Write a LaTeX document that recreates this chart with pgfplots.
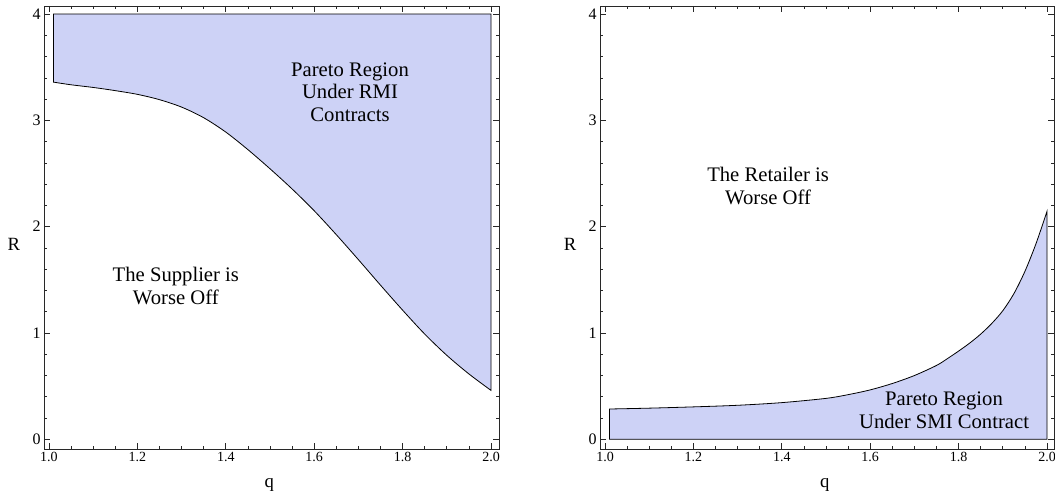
\documentclass[border=0pt]{standalone}
\usepackage{pgfplots}
\pgfplotsset{compat=1.18}
\usepackage{fontspec}
\setmainfont{Liberation Serif}
\definecolor{regcol}{RGB}{205,210,246}
\definecolor{framecol}{RGB}{40,40,40}
\pgfplotsset{
  mma/.style={
    scale only axis,
    height=332.25pt,
    xmin=0.98869, ymin=-0.0913, ymax=4.0762,
    axis line style={framecol, line width=0.6pt},
    tick style={framecol, line width=0.5pt},
    tick align=inside,
    major tick length=4.5pt,
    minor tick length=2.6pt,
    xtick={1.0,1.2,1.4,1.6,1.8,2.0},
    xticklabels={1.0,1.2,1.4,1.6,1.8,2.0},
    minor xtick={1.05,1.1,1.15,1.25,1.3,1.35,1.45,1.5,1.55,1.65,1.7,1.75,1.85,1.9,1.95},
    ytick={0,1,2,3,4},
    yticklabels={0,1,2,3,4},
    minor ytick={0.2,0.4,0.6,0.8,1.2,1.4,1.6,1.8,2.2,2.4,2.6,2.8,3.2,3.4,3.6,3.8},
    xticklabel style={font=\fontsize{10.5}{12}\selectfont, yshift=1pt},
    yticklabel style={font=\fontsize{12}{13}\selectfont, xshift=1pt},
    xlabel={q}, ylabel={R},
    xlabel style={font=\fontsize{14}{16}\selectfont, at={(axis description cs:0.495,-0.081)}, anchor=center},
    ylabel style={font=\fontsize{14}{16}\selectfont, rotate=-90, at={(axis description cs:-0.066,0.463)}, anchor=center},
    clip=false,
  }
}
\begin{document}
\begin{tikzpicture}
\path[use as bounding box] (0,0) rectangle (791.25pt,370.5pt);
\begin{axis}[mma, at={(33pt,33.75pt)}, anchor=south west, width=341.25pt, xmax=2.0181]
\addplot[fill=regcol, draw=black, line width=0.6pt, smooth] coordinates {
(1.01,3.36) (1.05,3.335) (1.10,3.31) (1.15,3.28) (1.20,3.245) (1.25,3.195)
(1.30,3.125) (1.35,3.025) (1.40,2.89) (1.45,2.725) (1.50,2.545) (1.55,2.355)
(1.60,2.15) (1.65,1.925) (1.70,1.69) (1.75,1.45) (1.80,1.215) (1.85,0.99)
(1.90,0.79) (1.95,0.615) (2.00,0.46)
} -- (axis cs:2.00,4.00) -- (axis cs:1.01,4.00) -- cycle;
\node[align=center, font=\fontsize{15.5}{17}\selectfont] at (axis cs:1.681,3.267) {Pareto Region\\Under RMI\\Contracts};
\node[align=center, font=\fontsize{15.5}{17}\selectfont] at (axis cs:1.287,1.442) {The Supplier is\\Worse Off};
\end{axis}
\begin{axis}[mma, at={(450pt,33.75pt)}, anchor=south west, width=340.5pt, xmax=2.0158]
\addplot[fill=regcol, draw=black, line width=0.6pt, smooth] coordinates {
(1.01,0.285) (1.10,0.293) (1.20,0.305) (1.30,0.32) (1.40,0.345)
(1.50,0.385) (1.55,0.42) (1.60,0.465) (1.65,0.525) (1.70,0.60) (1.75,0.695)
(1.775,0.76) (1.80,0.83) (1.825,0.905) (1.85,0.99) (1.875,1.09) (1.90,1.21)
(1.925,1.37) (1.95,1.58) (1.975,1.84) (2.00,2.145)
} -- (axis cs:2.00,0) -- (axis cs:1.01,0) -- cycle;
\node[align=center, font=\fontsize{15.5}{17}\selectfont] at (axis cs:1.369,2.383) {The Retailer is\\Worse Off};
\node[align=center, font=\fontsize{15.5}{17}\selectfont] at (axis cs:1.767,0.276) {Pareto Region\\Under SMI Contract};
\end{axis}
\end{tikzpicture}
\end{document}
